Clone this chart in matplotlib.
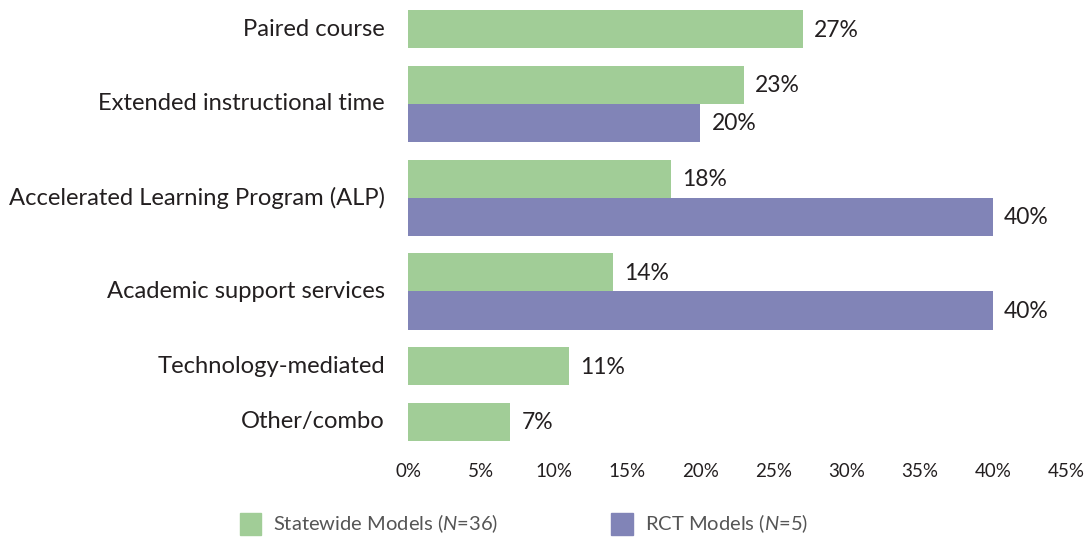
import matplotlib.pyplot as plt
from matplotlib.patches import Patch

plt.rcParams['font.family'] = ['Lato', 'DejaVu Sans']
plt.rcParams['mathtext.fontset'] = 'custom'
plt.rcParams['mathtext.it'] = 'Lato:italic'
plt.rcParams['mathtext.rm'] = 'Lato'

# data
categories = ['Paired course', 'Extended instructional time',
              'Accelerated Learning Program (ALP)', 'Academic support services',
              'Technology-mediated', 'Other/combo']
statewide = [27, 23, 18, 14, 11, 7]
rct = [None, 20, 40, 40, None, None]
xticks = [0, 5, 10, 15, 20, 25, 30, 35, 40, 45]

green = '#a1cd97'
purple = '#8184b7'
txt = '#231f20'

fig = plt.figure(figsize=(10.85, 5.48), dpi=100)
ax = fig.add_axes([408 / 1085, 107 / 548, 658 / 1085, 431 / 548])

gap = 0.46
y = 0
for cat, s, r in zip(categories, statewide, rct):
    ax.barh(y + 0.5, s, height=1, color=green)
    ax.annotate('%d%%' % s, (s, y + 0.5), xytext=(11, -1), textcoords='offset pixels',
                va='center', ha='left', fontsize=16.5, color=txt)
    n = 1
    if r is not None:
        ax.barh(y + 1.5, r, height=1, color=purple)
        ax.annotate('%d%%' % r, (r, y + 1.5), xytext=(11, -1), textcoords='offset pixels',
                    va='center', ha='left', fontsize=16.5, color=txt)
        n = 2
    ax.text(-23 / 14.62, y + n / 2.0, cat, ha='right', va='center', fontsize=17.1, color=txt)
    y += n + gap

ax.set_ylim(y - gap, 0)
ax.set_xlim(0, 45)
ax.set_yticks([])
ax.set_xticks(xticks)
ax.set_xticklabels(['%d%%' % t for t in xticks], fontsize=13.5, color=txt)
ax.tick_params(axis='x', length=0, pad=16)
for sp in ax.spines.values():
    sp.set_visible(False)

handles = [Patch(color=green, label='Statewide Models ($\\mathit{N}$=36)'),
           Patch(color=purple, label='RCT Models ($\\mathit{N}$=5)')]
leg = fig.legend(handles=handles, loc='lower left', bbox_to_anchor=(222 / 1085, -0.01),
                 ncol=2, frameon=False, fontsize=14.5, handlelength=1.05, handleheight=1.3,
                 handletextpad=0.6, columnspacing=5.6)
for t in leg.get_texts():
    t.set_color('#555555')

fig.savefig('out.png', dpi=100)
